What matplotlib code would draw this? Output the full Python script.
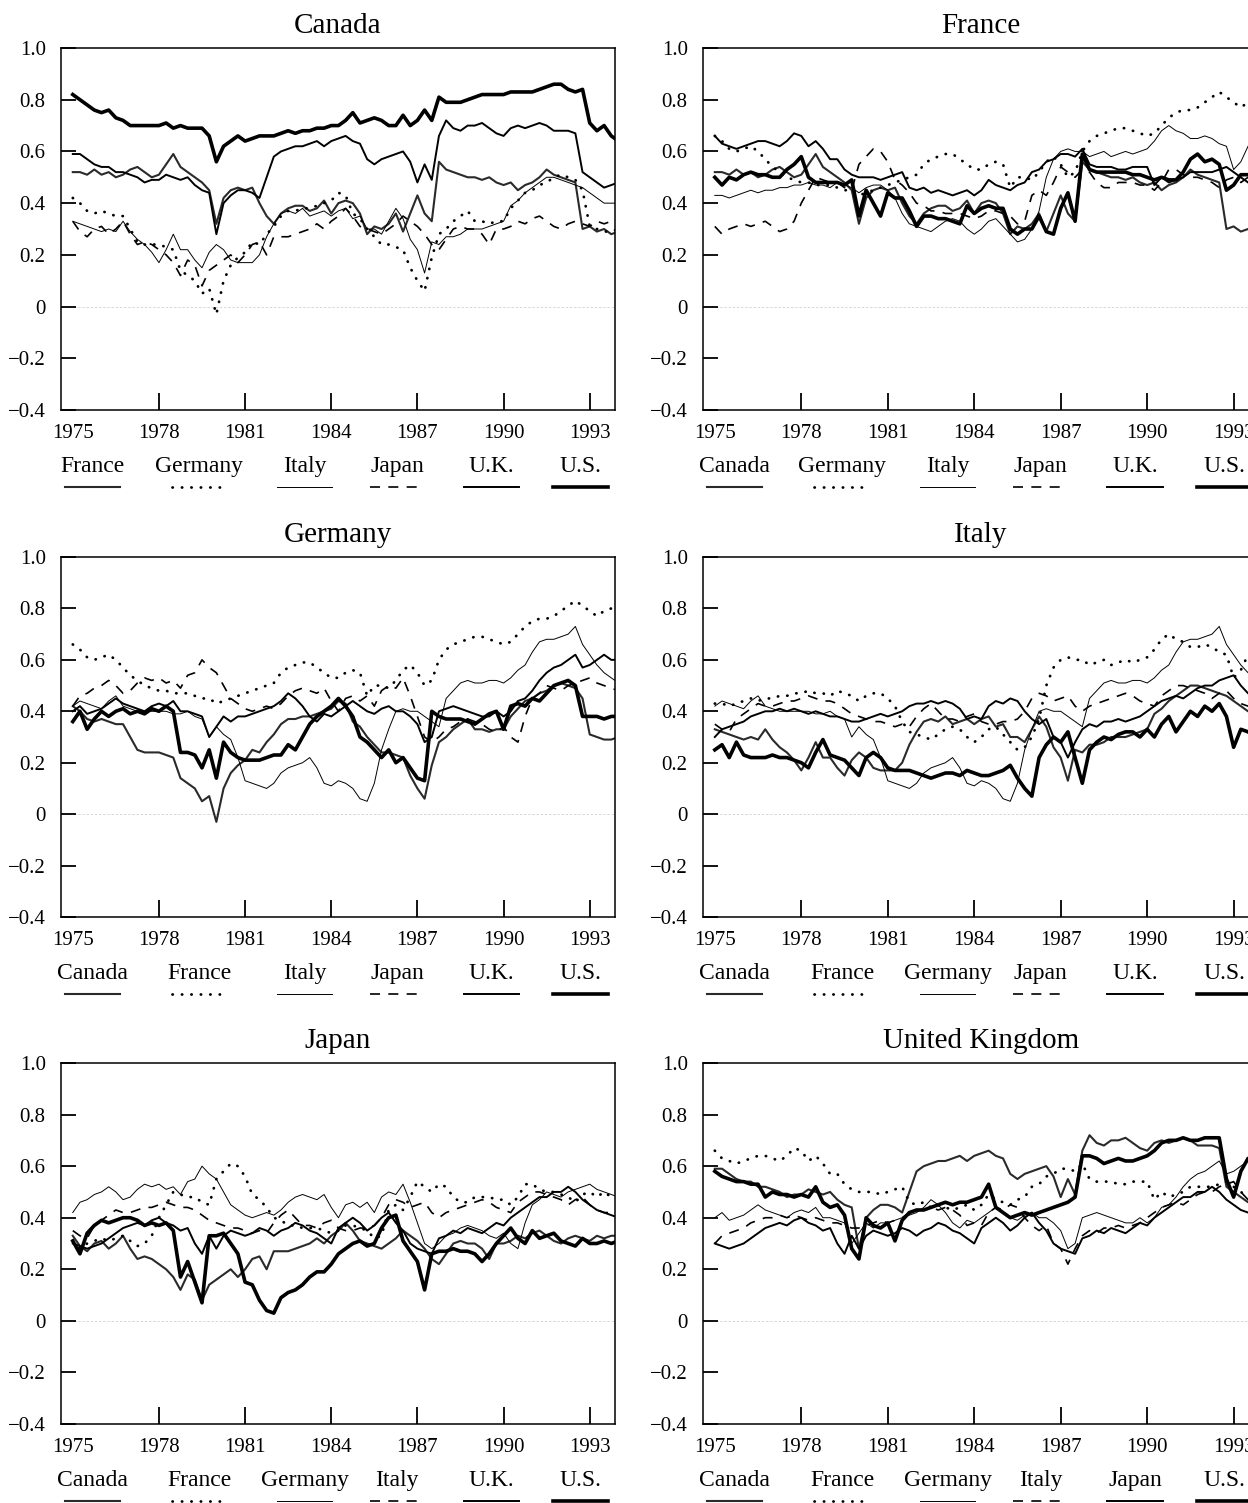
import matplotlib
matplotlib.use('Agg')
import matplotlib.pyplot as plt
import numpy as np

plt.rcParams['font.family'] = ['Liberation Serif', 'DejaVu Serif']

# quarterly observations, 1975.0 .. 1994.0
quarters = 1975.0 + 0.25 * np.arange(77)

# one series per country pair (the same pair shows up in two panels)
ca_fr = [.52, .52, .51, .53, .51, .52, .50, .51, .53, .54, .52, .50, .51, .55, .59, .54,
         .52, .50, .48, .45, .32, .42, .45, .46, .45, .46, .40, .35, .32, .36, .38, .39,
         .39, .37, .38, .41, .36, .40, .41, .40, .36, .28, .31, .30, .32, .36, .29, .36,
         .43, .36, .33, .56, .53, .52, .51, .50, .50, .49, .50, .48, .47, .48, .45, .47,
         .48, .50, .53, .51, .50, .49, .48, .30, .31, .29, .30, .28, .29]
ca_de = [.42, .40, .37, .36, .37, .36, .35, .35, .30, .25, .24, .24, .24, .23, .22, .14,
         .12, .10, .05, .07, -.03, .10, .16, .19, .21, .25, .24, .28, .31, .35, .37, .37,
         .38, .38, .39, .40, .41, .44, .43, .36, .34, .30, .27, .24, .24, .23, .22, .15,
         .10, .06, .19, .28, .30, .33, .35, .37, .33, .33, .32, .33, .33, .38, .41, .44,
         .45, .47, .48, .50, .51, .50, .49, .45, .31, .30, .29, .29, .30]
ca_it = [.33, .32, .31, .30, .29, .30, .29, .33, .29, .26, .24, .21, .17, .22, .28, .22,
         .22, .18, .15, .21, .24, .22, .18, .17, .17, .17, .20, .27, .32, .36, .37, .36,
         .38, .35, .36, .37, .35, .37, .38, .34, .35, .30, .30, .28, .33, .38, .34, .26,
         .22, .13, .25, .24, .27, .27, .28, .30, .30, .30, .31, .32, .33, .39, .41, .44,
         .46, .48, .50, .50, .49, .48, .47, .46, .44, .42, .40, .40, .40]
ca_jp = [.33, .29, .27, .30, .31, .28, .30, .33, .28, .24, .25, .24, .22, .20, .17, .12,
         .18, .16, .08, .14, .16, .18, .20, .17, .20, .24, .25, .20, .27, .27, .27, .28,
         .29, .30, .32, .30, .33, .35, .38, .35, .31, .30, .29, .28, .30, .32, .35, .33,
         .31, .28, .24, .22, .26, .30, .31, .30, .30, .28, .24, .30, .30, .31, .33, .32,
         .34, .35, .33, .31, .30, .32, .33, .32, .31, .33, .32, .33, .33]
ca_uk = [.59, .59, .57, .55, .54, .54, .52, .52, .51, .50, .48, .49, .49, .51, .50, .49,
         .50, .47, .45, .44, .28, .40, .43, .45, .45, .44, .42, .50, .58, .60, .61, .62,
         .62, .63, .64, .62, .64, .65, .66, .64, .63, .57, .55, .57, .58, .59, .60, .56,
         .48, .55, .49, .66, .72, .69, .68, .70, .70, .71, .69, .67, .66, .69, .70, .69,
         .70, .71, .70, .68, .68, .68, .67, .52, .50, .48, .46, .47, .48]
ca_us = [.82, .80, .78, .76, .75, .76, .73, .72, .70, .70, .70, .70, .70, .71, .69, .70,
         .69, .69, .69, .66, .56, .62, .64, .66, .64, .65, .66, .66, .66, .67, .68, .67,
         .68, .68, .69, .69, .70, .70, .72, .75, .71, .72, .73, .72, .70, .70, .74, .70,
         .72, .76, .72, .81, .79, .79, .79, .80, .81, .82, .82, .82, .82, .83, .83, .83,
         .83, .84, .85, .86, .86, .84, .83, .84, .71, .68, .70, .66, .64]
fr_de = [.66, .64, .61, .60, .61, .62, .60, .57, .54, .52, .50, .49, .48, .48, .47, .47,
         .47, .46, .45, .45, .43, .44, .45, .46, .47, .48, .49, .50, .51, .55, .57, .58,
         .59, .59, .57, .55, .53, .53, .55, .56, .55, .46, .50, .50, .49, .52, .56, .58,
         .55, .50, .52, .60, .64, .66, .67, .68, .69, .69, .68, .67, .66, .67, .70, .73,
         .75, .76, .76, .77, .79, .81, .83, .81, .79, .77, .79, .80, .80]
fr_it = [.43, .43, .42, .43, .44, .45, .44, .45, .45, .46, .46, .47, .47, .48, .47, .47,
         .46, .48, .47, .46, .44, .46, .47, .47, .45, .42, .36, .32, .31, .30, .29, .31,
         .33, .34, .33, .30, .28, .30, .33, .34, .31, .28, .25, .26, .30, .37, .50, .57,
         .60, .61, .60, .60, .58, .59, .60, .58, .59, .60, .59, .60, .61, .64, .68, .70,
         .68, .67, .65, .65, .66, .65, .63, .62, .53, .56, .62, .66, .66]
fr_jp = [.31, .28, .30, .31, .32, .31, .32, .33, .31, .29, .30, .33, .40, .45, .50, .49,
         .48, .48, .46, .45, .55, .58, .61, .60, .56, .49, .47, .44, .40, .39, .37, .37,
         .36, .36, .36, .35, .34, .35, .37, .37, .36, .35, .32, .33, .43, .45, .43, .48,
         .54, .52, .50, .53, .52, .48, .46, .46, .48, .48, .48, .47, .47, .45, .48, .53,
         .53, .51, .50, .50, .49, .48, .46, .49, .50, .48, .50, .48, .48]
fr_uk = [.66, .63, .62, .61, .62, .63, .64, .64, .63, .62, .64, .67, .66, .62, .64, .61,
         .57, .57, .53, .51, .50, .50, .50, .49, .50, .51, .52, .46, .45, .46, .44, .45,
         .44, .43, .44, .45, .43, .45, .49, .47, .46, .45, .47, .48, .52, .53, .56, .57,
         .59, .59, .58, .61, .55, .54, .54, .54, .53, .53, .54, .54, .54, .47, .50, .48,
         .49, .50, .52, .52, .52, .52, .53, .54, .52, .50, .48, .47, .47]
fr_us = [.50, .47, .50, .49, .51, .52, .51, .51, .50, .50, .53, .55, .58, .50, .48, .48,
         .48, .48, .47, .49, .35, .45, .40, .35, .44, .42, .42, .37, .31, .35, .35, .34,
         .34, .33, .32, .39, .36, .38, .39, .38, .38, .30, .28, .30, .30, .35, .29, .28,
         .38, .44, .33, .59, .53, .52, .52, .52, .52, .52, .51, .51, .50, .49, .50, .49,
         .49, .52, .57, .59, .56, .57, .55, .45, .47, .51, .51, .51, .51]
de_it = [.42, .44, .43, .42, .41, .44, .46, .42, .41, .40, .40, .40, .40, .40, .39, .39,
         .40, .38, .37, .30, .34, .31, .29, .22, .13, .12, .11, .10, .12, .16, .18, .19,
         .20, .22, .18, .12, .11, .13, .12, .10, .06, .05, .12, .25, .33, .40, .41, .40,
         .40, .38, .36, .34, .45, .48, .51, .52, .51, .51, .52, .52, .51, .53, .56, .58,
         .63, .67, .68, .68, .69, .70, .73, .66, .62, .58, .55, .53, .51]
de_jp = [.42, .46, .47, .49, .50, .52, .50, .47, .48, .51, .53, .52, .53, .51, .52, .49,
         .54, .55, .60, .57, .55, .50, .45, .43, .41, .40, .41, .42, .41, .43, .46, .48,
         .49, .48, .47, .49, .44, .40, .45, .46, .44, .46, .42, .48, .50, .49, .53, .46,
         .38, .30, .28, .30, .33, .34, .36, .37, .36, .35, .33, .32, .34, .30, .28, .38,
         .45, .47, .50, .49, .48, .50, .51, .52, .53, .51, .50, .49, .48]
de_uk = [.40, .42, .39, .40, .41, .43, .45, .43, .42, .41, .40, .42, .43, .42, .44, .40,
         .40, .39, .38, .30, .34, .38, .36, .38, .38, .39, .40, .41, .42, .44, .47, .45,
         .42, .38, .36, .39, .38, .40, .42, .44, .42, .40, .39, .41, .42, .40, .40, .38,
         .35, .28, .30, .40, .41, .42, .41, .40, .39, .38, .38, .40, .38, .40, .44, .45,
         .48, .52, .55, .57, .58, .60, .62, .57, .58, .60, .62, .60, .60]
de_us = [.36, .40, .33, .37, .40, .38, .40, .41, .39, .40, .39, .41, .40, .42, .40, .24,
         .24, .23, .18, .25, .14, .28, .24, .22, .21, .21, .21, .22, .23, .23, .27, .25,
         .30, .35, .38, .40, .42, .45, .42, .38, .30, .28, .25, .22, .25, .20, .22, .18,
         .14, .13, .40, .38, .37, .37, .37, .36, .35, .37, .39, .40, .33, .42, .43, .42,
         .45, .44, .47, .50, .51, .52, .50, .38, .38, .38, .37, .38, .38]
it_jp = [.35, .33, .32, .37, .39, .41, .43, .42, .42, .43, .44, .44, .45, .46, .45, .44,
         .44, .43, .41, .39, .38, .37, .36, .36, .35, .34, .35, .34, .38, .41, .43, .40,
         .37, .37, .36, .38, .39, .36, .35, .35, .36, .36, .37, .40, .45, .47, .46, .44,
         .45, .46, .42, .40, .42, .43, .44, .45, .46, .47, .46, .44, .43, .42, .46, .48,
         .50, .50, .49, .48, .47, .45, .47, .48, .45, .43, .42, .42, .42]
it_uk = [.30, .33, .34, .35, .36, .38, .39, .40, .40, .41, .40, .41, .40, .39, .40, .39,
         .38, .38, .37, .36, .36, .37, .38, .39, .38, .39, .40, .42, .43, .43, .44, .43,
         .44, .43, .41, .37, .38, .37, .42, .44, .43, .45, .44, .40, .37, .35, .37, .30,
         .28, .22, .28, .33, .35, .34, .36, .36, .37, .36, .37, .38, .40, .42, .44, .45,
         .46, .45, .47, .49, .50, .50, .52, .53, .54, .50, .47, .45, .45]
it_us = [.25, .27, .22, .28, .23, .22, .22, .22, .23, .22, .22, .21, .20, .18, .24, .29,
         .23, .22, .21, .18, .15, .22, .24, .22, .18, .17, .17, .17, .16, .15, .14, .15,
         .16, .16, .15, .17, .16, .15, .15, .16, .17, .19, .14, .10, .07, .22, .27, .30,
         .28, .32, .22, .12, .25, .28, .30, .29, .31, .32, .32, .30, .33, .30, .35, .38,
         .32, .36, .40, .38, .42, .40, .43, .38, .26, .33, .32, .30, .30]
jp_uk = [.30, .29, .28, .29, .30, .32, .34, .36, .37, .38, .37, .39, .40, .38, .37, .35,
         .36, .30, .26, .33, .28, .33, .35, .34, .33, .34, .36, .35, .33, .35, .36, .38,
         .37, .35, .34, .32, .30, .36, .38, .40, .38, .35, .37, .40, .42, .38, .35, .30,
         .28, .27, .26, .32, .33, .35, .34, .36, .35, .34, .36, .38, .37, .40, .42, .44,
         .46, .48, .48, .50, .50, .52, .50, .47, .45, .43, .42, .41, .40]
jp_us = [.31, .26, .34, .37, .39, .38, .39, .40, .40, .39, .37, .38, .37, .38, .35, .17,
         .23, .15, .07, .33, .33, .34, .30, .26, .15, .14, .08, .04, .03, .09, .11, .12,
         .14, .17, .19, .19, .22, .26, .28, .30, .31, .29, .30, .36, .40, .41, .31, .27,
         .23, .12, .26, .27, .27, .28, .27, .27, .26, .23, .26, .30, .33, .36, .32, .30,
         .35, .32, .33, .34, .31, .30, .29, .32, .30, .30, .31, .30, .31]
uk_us = [.58, .56, .55, .54, .54, .53, .53, .48, .50, .49, .49, .48, .49, .48, .52, .46,
         .44, .45, .41, .28, .24, .40, .37, .36, .38, .31, .39, .42, .43, .43, .44, .45,
         .46, .45, .46, .46, .47, .48, .53, .44, .42, .40, .41, .42, .41, .42, .43, .44,
         .45, .46, .48, .64, .64, .63, .61, .62, .63, .62, .62, .63, .64, .66, .69, .70,
         .70, .71, .70, .70, .71, .71, .71, .55, .48, .58, .63, .62, .62]

panels = [
    ('Canada', ['France', 'Germany', 'Italy', 'Japan', 'U.K.', 'U.S.'],
     [ca_fr, ca_de, ca_it, ca_jp, ca_uk, ca_us]),
    ('France', ['Canada', 'Germany', 'Italy', 'Japan', 'U.K.', 'U.S.'],
     [ca_fr, fr_de, fr_it, fr_jp, fr_uk, fr_us]),
    ('Germany', ['Canada', 'France', 'Italy', 'Japan', 'U.K.', 'U.S.'],
     [ca_de, fr_de, de_it, de_jp, de_uk, de_us]),
    ('Italy', ['Canada', 'France', 'Germany', 'Japan', 'U.K.', 'U.S.'],
     [ca_it, fr_it, de_it, it_jp, it_uk, it_us]),
    ('Japan', ['Canada', 'France', 'Germany', 'Italy', 'U.K.', 'U.S.'],
     [ca_jp, fr_jp, de_jp, it_jp, jp_uk, jp_us]),
    ('United Kingdom', ['Canada', 'France', 'Germany', 'Italy', 'Japan', 'U.S.'],
     [ca_uk, fr_uk, de_uk, it_uk, jp_uk, uk_us]),
]

year_ticks = [1975, 1978, 1981, 1984, 1987, 1990, 1993]
value_ticks = [-0.4, -0.2, 0, 0.2, 0.4, 0.6, 0.8, 1.0]
value_labels = ['\u22120.4', '\u22120.2', '0', '0.2', '0.4', '0.6', '0.8', '1.0']

# line look depends on the slot in the legend, not on the country
styles = [
    dict(color='#2a2a2a', lw=1.5, ls='-'),
    dict(color='black', lw=2.0, ls=(0, (0.1, 3.3)), dash_capstyle='round'),
    dict(color='black', lw=0.7, ls='-'),
    dict(color='black', lw=1.2, ls=(0, (6, 5))),
    dict(color='black', lw=1.4, ls='-'),
    dict(color='black', lw=2.6, ls='-'),
]
legend_x = [0.057, 0.25, 0.44, 0.607, 0.777, 0.938]

fig = plt.figure(figsize=(12.48, 15.03), dpi=100)

col_left = [61 / 1248, 703 / 1248]
col_width = [554 / 1248, 556 / 1248]
row_bottom = [1 - 410 / 1503, 1 - 917 / 1503, 1 - 1424 / 1503]
row_height = [362 / 1503, 360 / 1503, 361 / 1503]

for k, (name, others, series) in enumerate(panels):
    r, c = divmod(k, 2)
    ax = fig.add_axes([col_left[c], row_bottom[r], col_width[c], row_height[r]])

    ax.axhline(0, color='#d2d2d2', lw=0.6, ls=(0, (3, 2)), zorder=0)
    for j, vals in enumerate(series):
        ax.plot(quarters, vals, **styles[j])

    ax.set_xlim(1974.59, 1993.88)
    ax.set_ylim(-0.4, 1.0)
    ax.set_xticks(year_ticks)
    ax.set_yticks(value_ticks)
    ax.set_yticklabels(value_labels)
    ax.tick_params(axis='both', direction='in', width=1.3, labelsize=15, top=False, right=False)
    ax.tick_params(axis='x', length=12, pad=10)
    ax.tick_params(axis='y', length=11, pad=11)
    ax.xaxis.get_major_ticks()[0].tick1line.set_visible(False)
    for sp in ax.spines.values():
        sp.set_linewidth(1.1)

    ax.set_title(name, fontsize=21, pad=11)

    for j, lab in enumerate(others):
        ax.text(legend_x[j], -0.157, lab, transform=ax.transAxes,
                ha='center', va='center', fontsize=17)
        ax.plot([legend_x[j] - 0.05, legend_x[j] + 0.05], [-0.213, -0.213],
                transform=ax.transAxes, clip_on=False, **styles[j])

fig.savefig('out.png', dpi=100)
